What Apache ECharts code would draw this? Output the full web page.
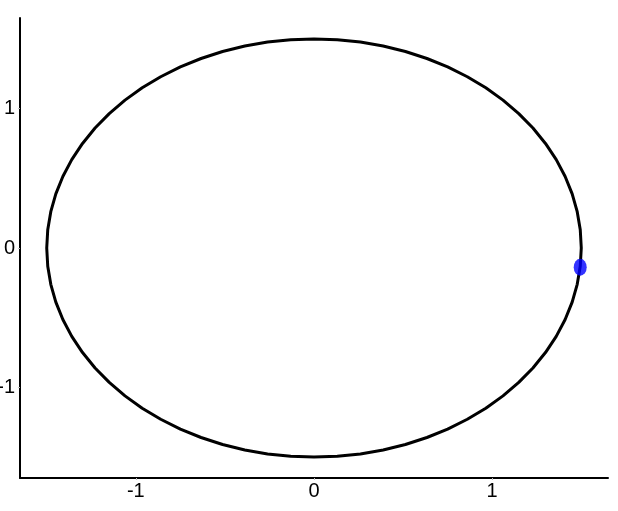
<!DOCTYPE html>
<html>
<head>
<meta charset="utf-8">
<script src="https://cdn.jsdelivr.net/npm/echarts@6/dist/echarts.min.js"></script>
<style>html,body{margin:0;padding:0;background:#fff}#c{width:618px;height:511px}</style>
</head>
<body>
<div id="c"></div>
<script>
// Circle of radius 1.5, sampled every 5 degrees
const circleX = [1.5,1.4943,1.4772,1.4489,1.4095,1.3595,1.2990,1.2287,1.1491,1.0607,0.9642,0.8604,0.75,0.6339,0.5130,0.3882,0.2605,0.1307,0,
 -0.1307,-0.2605,-0.3882,-0.5130,-0.6339,-0.75,-0.8604,-0.9642,-1.0607,-1.1491,-1.2287,-1.2990,-1.3595,-1.4095,-1.4489,-1.4772,-1.4943,-1.5,
 -1.4943,-1.4772,-1.4489,-1.4095,-1.3595,-1.2990,-1.2287,-1.1491,-1.0607,-0.9642,-0.8604,-0.75,-0.6339,-0.5130,-0.3882,-0.2605,-0.1307,0,
 0.1307,0.2605,0.3882,0.5130,0.6339,0.75,0.8604,0.9642,1.0607,1.1491,1.2287,1.2990,1.3595,1.4095,1.4489,1.4772,1.4943,1.5];
const circleY = [0,0.1307,0.2605,0.3882,0.5130,0.6339,0.75,0.8604,0.9642,1.0607,1.1491,1.2287,1.2990,1.3595,1.4095,1.4489,1.4772,1.4943,1.5,
 1.4943,1.4772,1.4489,1.4095,1.3595,1.2990,1.2287,1.1491,1.0607,0.9642,0.8604,0.75,0.6339,0.5130,0.3882,0.2605,0.1307,0,
 -0.1307,-0.2605,-0.3882,-0.5130,-0.6339,-0.75,-0.8604,-0.9642,-1.0607,-1.1491,-1.2287,-1.2990,-1.3595,-1.4095,-1.4489,-1.4772,-1.4943,-1.5,
 -1.4943,-1.4772,-1.4489,-1.4095,-1.3595,-1.2990,-1.2287,-1.1491,-1.0607,-0.9642,-0.8604,-0.75,-0.6339,-0.5130,-0.3882,-0.2605,-0.1307,0];
const pointX = [1.494];
const pointY = [-0.138];
const xTicks = [-1, 0, 1];
const yTicks = [-1, 0, 1];

const circleData = circleX.map((x, i) => [x, circleY[i]]);
const pointData = pointX.map((x, i) => [x, pointY[i]]);

const chart = echarts.init(document.getElementById('c'));
function makeAxis(ticks, margin) {
  return {
    type: 'value', min: -1.65, max: 1.65,
    splitLine: {show: false},
    axisLine: {show: true, onZero: false, lineStyle: {color: '#000', width: 2}},
    axisTick: {show: true, length: 2, customValues: ticks, lineStyle: {color: '#bbb', width: 1}},
    axisLabel: {color: '#000', fontSize: 20, fontFamily: 'Liberation Sans', margin: margin,
      customValues: ticks, formatter: v => String(v)}
  };
}
chart.setOption({
  animation: false,
  backgroundColor: '#fff',
  grid: {left: 20, right: 10, top: 18, bottom: 33, containLabel: false, outerBoundsMode: 'none'},
  xAxis: makeAxis(xTicks, 3),
  yAxis: makeAxis(yTicks, 5),
  series: [
    {type: 'line', data: circleData, showSymbol: false, symbol: 'none',
     lineStyle: {color: '#000', width: 3}, z: 2},
    {type: 'scatter', data: pointData, symbol: 'circle', symbolSize: [13, 17],
     itemStyle: {color: '#0000ff'}, z: 3}
  ]
});
</script>
</body>
</html>
